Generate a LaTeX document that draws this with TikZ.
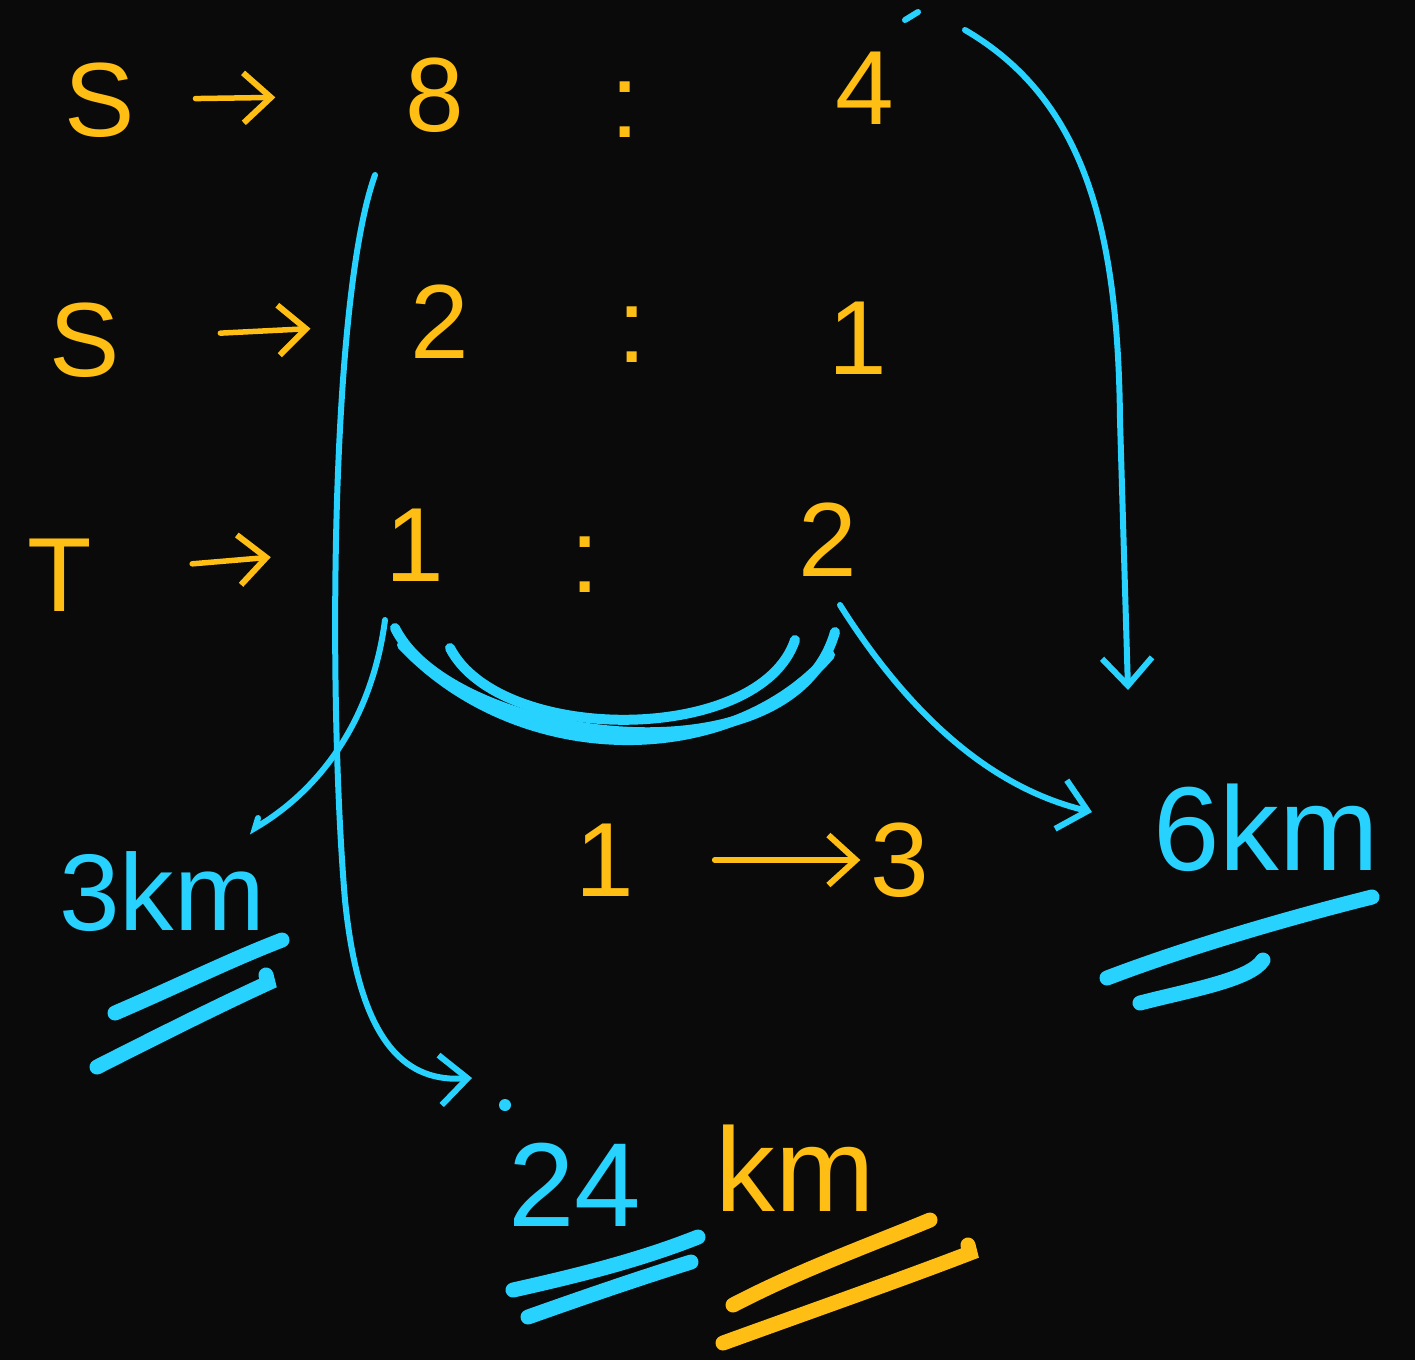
\documentclass[tikz,border=0pt]{standalone}
\usepackage{fontspec}
\setmainfont{Liberation Sans}
\usetikzlibrary{arrows.meta}
\definecolor{ink}{HTML}{FFBE14}
\definecolor{cy}{HTML}{28D2FF}
\definecolor{bg}{HTML}{0A0A0A}
\begin{document}
\begin{tikzpicture}[x=0.02cm,y=-0.02cm,
  yt/.style={text=ink,font=\fontsize{60}{66}\selectfont,inner sep=0pt},
  ct/.style={text=cy,font=\fontsize{60}{66}\selectfont,inner sep=0pt},
  big/.style={font=\fontsize{68}{74}\selectfont},
  tip/.style={-{Straight Barb[length=0.55cm,width=1.0cm,line width=0.12cm]}},
  ya/.style={draw=ink,line width=0.11cm,line cap=round,tip},
  cl/.style={draw=cy,line width=0.12cm,line cap=round},
  bowl/.style={draw=cy,line width=0.2cm,line cap=round},
  ul/.style={line width=0.3cm,line cap=round}]
\fill[bg] (0,0) rectangle (1415,1360);
% row 1
\node[yt] (s1) at (100,100) {S};
\node[yt] (n8) at (435,95) {8};
\node[yt] (c1) at (625,110) {:};
\node[yt] (n4) at (865,88) {4};
% row 2
\node[yt] (s2) at (85,340) {S};
\node[yt] (n2) at (440,322) {2};
\node[yt] (c2) at (632,335) {:};
\node[yt] (n1) at (858,338) {1};
% row 3
\node[yt] (t) at (60,575) {T};
\node[yt] (m1) at (415,545) {1};
\node[yt] (c3) at (585,565) {:};
\node[yt] (m2) at (828,540) {2};
% middle
\node[yt] (r1) at (605,860) {1};
\node[yt] (r3) at (900,860) {3};
% results
\node[ct,font=\fontsize{62}{68}\selectfont] (km3) at (162,892) {3km};
\node[ct,big] (km6) at (1266,828) {6km};
\node[ct,big] (n24) at (575,1185) {24};
\node[yt,big] (kmy) at (795,1168) {km};
% yellow arrows
\draw[ya,shorten <=1.2cm,shorten >=2.6cm] (s1) -- (n8);
\draw[ya,shorten <=2.0cm,shorten >=2.0cm] (s2) -- (n2);
\draw[ya,shorten <=2.0cm,shorten >=2.3cm] (t) -- (m1);
\draw[ya,shorten <=1.6cm,shorten >=0.2cm] (r1) -- (r3);
% coordinates
\coordinate (lstart) at (375,175);
\coordinate (a24) at (472,1078);
\coordinate (rstart) at (965,30);
\coordinate (a6top) at (1128,690);
\coordinate (bl) at (385,620);
\coordinate (a3) at (255,828);
\coordinate (br) at (840,605);
\coordinate (a6) at (1092,812);
% long left connector
\draw[cl,tip] (lstart) .. controls (330,300) and (328,700) .. (345,900)
  .. controls (360,1050) and (410,1082) .. (a24);
\fill[cy] (505,1105) circle (6);
% right connector
\draw[cl,tip] (rstart) .. controls (1085,100) and (1118,230) .. (1120,420) -- (a6top);
\draw[cl] (905,20) -- (918,12);
% bowl
\draw[bowl] (395,628) .. controls (450,740) and (790,790) .. (835,632);
\draw[bowl] (450,648) .. controls (500,745) and (760,745) .. (795,640);
\draw[bowl] (402,645) .. controls (520,770) and (730,770) .. (830,655);
% to 3km
\draw[cl] (bl) .. controls (372,720) and (320,790) .. (a3) -- (258,818);
% to 6km
\draw[cl,tip] (br) .. controls (900,700) and (980,785) .. (a6);
% underlines
\draw[ul,draw=cy] (115,1013) .. controls (180,985) and (230,960) .. (282,940);
\draw[ul,draw=cy] (97,1067) .. controls (160,1035) and (220,1005) .. (268,983) -- (266,975);
\draw[ul,draw=cy] (1107,978) .. controls (1180,950) and (1280,920) .. (1372,897);
\draw[ul,draw=cy] (1140,1003) .. controls (1190,990) and (1250,980) .. (1263,960);
\draw[ul,draw=cy] (513,1290) .. controls (580,1275) and (640,1260) .. (698,1237);
\draw[ul,draw=cy] (528,1317) .. controls (590,1295) and (640,1278) .. (691,1262);
\draw[ul,draw=ink] (733,1305) .. controls (800,1270) and (870,1245) .. (930,1220);
\draw[ul,draw=ink] (723,1343) .. controls (800,1315) and (900,1280) .. (970,1253) -- (968,1245);
\end{tikzpicture}
\end{document}
